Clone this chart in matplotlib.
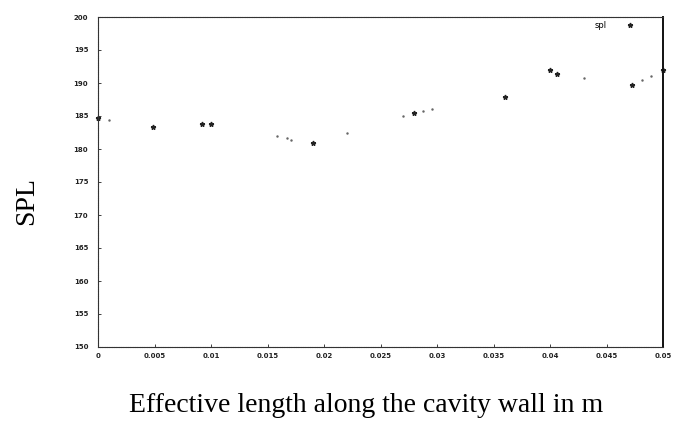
import matplotlib
matplotlib.use("Agg")
import matplotlib.pyplot as plt

# Data
star_x = [0.0, 0.0049, 0.0092, 0.0100, 0.0190, 0.0280, 0.0360, 0.0400, 0.0406, 0.0473, 0.0500]
star_y = [184.7, 183.3, 183.8, 183.8, 180.9, 185.5, 187.9, 192.0, 191.4, 189.7, 192.0]
dot_x = [0.0010, 0.0158, 0.0167, 0.0171, 0.0220, 0.0270, 0.0288, 0.0296, 0.0430, 0.0481, 0.0489]
dot_y = [184.4, 182.0, 181.7, 181.4, 182.4, 185.0, 185.8, 186.1, 190.8, 190.5, 191.1]

xticks = [0, 0.005, 0.01, 0.015, 0.02, 0.025, 0.03, 0.035, 0.04, 0.045, 0.05]
xticklabels = ["0", "0.005", "0.01", "0.015", "0.02", "0.025", "0.03", "0.035", "0.04", "0.045", "0.05"]
yticks = [150, 155, 160, 165, 170, 175, 180, 185, 190, 195, 200]
yticklabels = [str(v) for v in yticks]

fig = plt.figure(figsize=(6.87, 4.26), dpi=100)
ax = fig.add_axes([98/687, 1-347/426, 565/687, 330/426])

ax.plot(star_x, star_y, linestyle="none", marker="*", markersize=3.5,
        color="#222222", label="spl", clip_on=False)
ax.plot(dot_x, dot_y, linestyle="none", marker=".", markersize=1.5,
        color="#666666", clip_on=False)

ax.set_xlim(0, 0.05)
ax.set_ylim(150, 200)
ax.set_xticks(xticks)
ax.set_xticklabels(xticklabels)
ax.set_yticks(yticks)
ax.set_yticklabels(yticklabels)

ax.tick_params(axis="both", direction="in", length=2.5, width=0.6, colors="#222222",
               labelsize=5)
ax.tick_params(axis="x", pad=4)
ax.tick_params(axis="y", pad=7)
for lab in ax.get_xticklabels() + ax.get_yticklabels():
    lab.set_fontweight("bold")

for side in ["top", "left", "bottom"]:
    ax.spines[side].set_linestyle((0, (1.5, 0.6)))
    ax.spines[side].set_linewidth(0.8)
    ax.spines[side].set_color("#333333")
ax.spines["right"].set_linewidth(1.4)
ax.spines["right"].set_color("#111111")

h = ax.get_lines()[0]
ax.legend([h], ["spl"], loc="center", bbox_to_anchor=(0.92, 0.975),
          frameon=False, markerfirst=False, fontsize=6, handlelength=2.5,
          handletextpad=1.5, borderpad=0)

fig.text(27/687, 1-201/426, "SPL", rotation=90, ha="center", va="center",
         fontsize=20, family="Liberation Serif")
fig.text(366/687, 1-406/426, "Effective length along the cavity wall in m",
         ha="center", va="center", fontsize=20, family="Liberation Serif")

fig.savefig("out.png", dpi=100)
